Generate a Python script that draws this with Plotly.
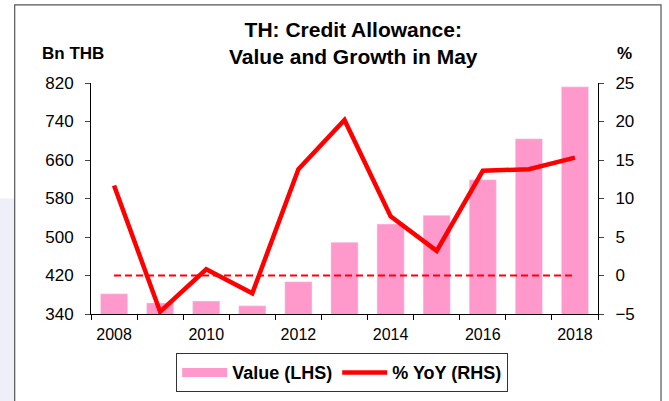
import plotly.graph_objects as go

years = [2008, 2009, 2010, 2011, 2012, 2013, 2014, 2015, 2016, 2017, 2018]
value_lhs = [382, 363, 367, 357, 407, 489, 527, 545, 619, 704, 812]
yoy_rhs = [11.7, -4.7, 0.8, -2.3, 13.8, 20.2, 7.7, 3.2, 13.6, 13.8, 15.3]
zero_line = [0] * len(years)
xtick_years = [2008, 2010, 2012, 2014, 2016, 2018]

idx = list(range(len(years)))
font_family = "Liberation Sans, Arial, sans-serif"
PINK = "#FF99CC"
RED = "#FF0000"

fig = go.Figure()
fig.add_trace(go.Bar(x=idx, y=value_lhs, name="Value (LHS)", marker_color=PINK,
                     width=0.59, yaxis="y", showlegend=False))
# legend proxy for the bar series (wide pink swatch)
fig.add_trace(go.Scatter(x=[None], y=[None], mode="lines", name="Value (LHS)",
                         line=dict(color=PINK, width=9), yaxis="y"))
fig.add_trace(go.Scatter(x=idx, y=zero_line, mode="lines", showlegend=False,
                         line=dict(color=RED, width=2.2, dash="7px,4px"), yaxis="y2"))
fig.add_trace(go.Scatter(x=idx, y=yoy_rhs, mode="lines", name="% YoY (RHS)",
                         line=dict(color=RED, width=4.5), yaxis="y2"))

fig.update_layout(
    width=669, height=401,
    margin=dict(l=91, r=71, t=83, b=87, autoexpand=False),
    paper_bgcolor="white", plot_bgcolor="white",
    font=dict(family=font_family, size=16, color="black"),
    showlegend=True,
    legend=dict(orientation="h", x=0.495, xanchor="center", y=-0.169, yanchor="top",
                bordercolor="#333333", borderwidth=1.2, itemwidth=45,
                font=dict(size=18, family=font_family, weight="bold"),
                traceorder="normal"),
    xaxis=dict(range=[-0.5, 10.5], tickvals=[years.index(y) for y in xtick_years],
               ticktext=[str(y) for y in xtick_years], ticks="", automargin=False,
               showline=True, linecolor="black", linewidth=1, showgrid=False, zeroline=False,
               minor=dict(ticks="outside", tick0=-0.5, dtick=1, ticklen=5, tickcolor="black"),
               tickfont=dict(size=16), ticklabelstandoff=6),
    yaxis=dict(range=[340, 820], dtick=80, tick0=340, ticks="outside", ticklen=5,
               automargin=False, ticklabelstandoff=8,
               showline=True, linecolor="black", linewidth=1, showgrid=False, zeroline=False,
               tickfont=dict(size=17)),
    yaxis2=dict(range=[-5, 25], dtick=5, tick0=-5, ticks="outside", ticklen=5,
                overlaying="y", side="right", automargin=False, ticklabelstandoff=8,
                showline=True, linecolor="black", linewidth=1, showgrid=False, zeroline=False,
                tickfont=dict(size=17)),
)

fig.add_annotation(text="<b>TH: Credit Allowance:<br>Value and Growth in May</b>",
                   xref="paper", yref="paper", x=0.517, y=1.174, xanchor="center", yanchor="middle",
                   showarrow=False, font=dict(size=21, family=font_family))
fig.add_annotation(text="<b>Bn THB</b>", xref="paper", yref="paper",
                   x=-0.0355, y=1.128, xanchor="center", yanchor="middle",
                   showarrow=False, font=dict(size=17, family=font_family))
fig.add_annotation(text="<b>%</b>", xref="paper", yref="paper",
                   x=1.053, y=1.128, xanchor="center", yanchor="middle",
                   showarrow=False, font=dict(size=17, family=font_family))

# faint lavender strip at far left, outer frame
fig.add_shape(type="rect", xref="paper", yref="paper",
              x0=-0.2, x1=-0.1505, y0=-0.4, y1=0.5,
              line=dict(width=0), fillcolor="#EEEFF9", layer="below")
fig.add_shape(type="rect", xref="paper", yref="paper",
              x0=-0.1505, x1=1.1243, y0=-0.45, y1=1.338,
              line=dict(color="#555555", width=1.2))

fig.write_html("out.html", config={"displayModeBar": False},
               post_script="document.body.style.margin='0';document.body.style.padding='0';")
